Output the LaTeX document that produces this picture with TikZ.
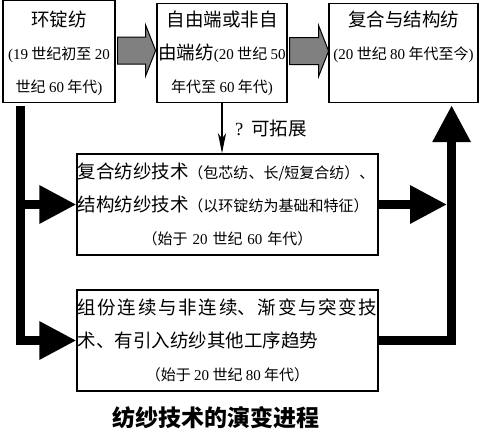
\documentclass[tikz,border=0pt]{standalone}
\usepackage{fontspec}
\setmainfont{Noto Sans CJK SC}
\newfontfamily\lat{Liberation Serif}
\usepackage{tikz}
\usetikzlibrary{calc}
\usetikzlibrary{arrows.meta}
\setlength{\parindent}{0pt}
\newcommand{\hd}[1]{{\fontsize{18.5}{33}\selectfont #1}}
\newcommand{\yr}[1]{{\lat #1}}
\newcommand{\linesc}[2][26pt]{\begin{tabular}{@{}c@{}}\rule{0pt}{#1}#2\end{tabular}}
\newcommand{\zhbreak}{\XeTeXlinebreaklocale "zh"\XeTeXlinebreakskip=0pt plus 2pt\relax}
\tikzstyle{stage} = [rectangle, 
draw=black, 
line width=1.2pt, 
fill=white, 
inner xsep=1pt, 
inner ysep=0pt, 
font=\fontsize{15}{33}\selectfont]
\tikzstyle{techbox} = [stage, 
align=left, 
text width=300pt, 
inner xsep=0.5pt, 
minimum width=301pt, 
minimum height=101pt]
\tikzstyle{grayarrow} = [draw=black, fill=gray, line width=1pt]
\tikzstyle{thickarrow} = [line width=9pt, line join=miter, -{Triangle[length=37pt, width=36pt]}]
\tikzstyle{thinarrow} = [line width=1.6pt, -{Stealth[length=20pt, width=8pt, inset=5pt]}]

\begin{document}
\begin{tikzpicture}[x=1pt, y=-1pt]
    \useasboundingbox (0,0) rectangle (482,432);

    \node (ring) [stage, minimum width=112pt, minimum height=102pt] at (59,51.5) {\linesc{\hd{环锭纺}\\\yr{(19} 世纪初至 \yr{20}\\世纪 \yr{60} 年代\yr{)}}};
    \node (openend) [stage, minimum width=130pt, minimum height=99pt] at (222,53) {\linesc[23pt]{\hd{自由端或非自}\\\hd{由端纺}\yr{(20} 世纪 \yr{50}\\年代至 \yr{60} 年代\yr{)}}};
    \node (composite) [stage, minimum width=149pt, minimum height=99pt] at (403.5,53) {\linesc[23pt]{\hd{复合与结构纺}\\\yr{(20} 世纪 \yr{80} 年代至今\yr{)}\\~}};

    \node (techA) [techbox] at (227.5,204.5) {\hd{复合纺纱技术}（包芯纺、长/短复合纺）、\\\hd{结构纺纱技术}（以环锭纺为基础和特征）\\\makebox[\hsize]{（始于 \yr{20} 世纪 \yr{60} 年代）}};
    \node (techB) [techbox, align=justify, font=\fontsize{15}{33}\selectfont\zhbreak] at (227.5,340.5) {\hd{组份连续与非连续、渐变与突变技\linebreak 术、有引入纺纱其他工序趋势}\\\makebox[\hsize]{（始于 \yr{20} 世纪 \yr{80} 年代）}};

    \node (caption) [font=\bfseries\fontsize{23}{23}\selectfont] at (216,418) {纺纱技术的演变进程};

    % Gray block arrows between the stages
    \draw [grayarrow] ($(ring.east)+(2,-1)$) -- ++(0,-13.5) -- ++(28,0) -- ++(0,-12) -- ++(10,25.5) -- ++(-10,25.5) -- ++(0,-12) -- ++(-28,0) -- cycle;
    \draw [grayarrow] ($(openend.east)+(2,-2)$) -- ++(0,-13.5) -- ++(29,0) -- ++(0,-12) -- ++(10,25.5) -- ++(-10,25.5) -- ++(0,-12) -- ++(-29,0) -- cycle;

    % Thick lines on the left
    \coordinate (lstart) at ($(ring.south west)+(18,3)$);
    \draw [thickarrow] (lstart) |- (techB.west);
    \draw [thickarrow] (lstart |- techA.west) -- (techA.west);

    % Thick lines on the right
    \coordinate (rtip) at ($(composite.south east)+(-27,2)$);
    \draw [thickarrow] (techB.east) -| (rtip);
    \draw [thickarrow] (techA.east) -- ($(rtip |- techA.east)+(-4.5,0)$);

    % Open branch
    \draw [thinarrow] (openend.south) -- (openend.south |- techA.north);
    \node (expand) [anchor=west, inner sep=0pt, font=\fontsize{18.5}{20}\selectfont] at ($(openend.south)!0.5!(openend.south |- techA.north)+(13,0)$) {\yr{?}\hspace{8pt}可拓展};
  \end{tikzpicture}
\end{document}
